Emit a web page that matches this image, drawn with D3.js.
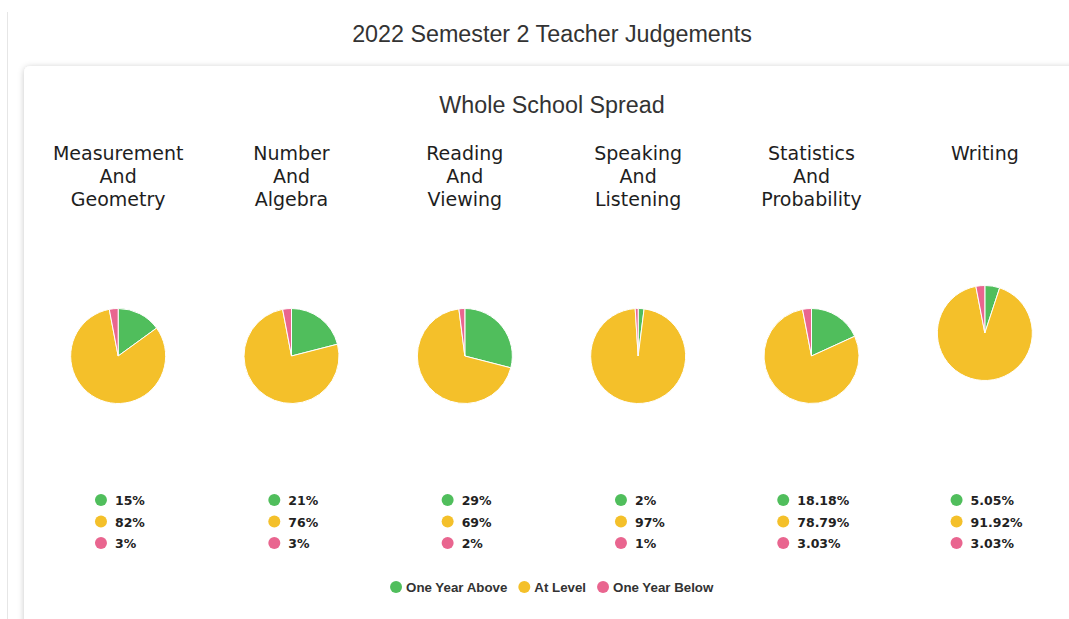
<!DOCTYPE html>
<html>
<head>
<meta charset="utf-8">
<script src="https://cdn.jsdelivr.net/npm/d3@7"></script>
<style>
  body { margin: 0; background: #fff; }
  svg { display: block; }
</style>
</head>
<body>
<svg id="chart" width="1069" height="619"></svg>
<script>
// Chart data
const subjects = [
  ['Measurement', 'And', 'Geometry'],
  ['Number', 'And', 'Algebra'],
  ['Reading', 'And', 'Viewing'],
  ['Speaking', 'And', 'Listening'],
  ['Statistics', 'And', 'Probability'],
  ['Writing']
];
const levels = ['One Year Above', 'At Level', 'One Year Below'];
const aboveValues = [15, 21, 29, 2, 18.18, 5.05];
const atLevelValues = [82, 76, 69, 97, 78.79, 91.92];
const belowValues = [3, 3, 2, 1, 3.03, 3.03];

const colors = d3.scaleOrdinal().domain(levels).range(['#50be5c', '#f4c02a', '#e9658f']);

const svg = d3.select('#chart');

// Shadow for the card
const defs = svg.append('defs');
const filter = defs.append('filter').attr('id', 'shadow')
  .attr('x', '-5%').attr('y', '-5%').attr('width', '110%').attr('height', '110%');
filter.append('feDropShadow').attr('dx', 0).attr('dy', 1).attr('stdDeviation', 3)
  .attr('flood-color', '#000').attr('flood-opacity', 0.22);

// left page divider
svg.append('line').attr('x1', 7.5).attr('x2', 7.5).attr('y1', 12).attr('y2', 619)
  .attr('stroke', '#e6e6e6').attr('stroke-width', 1);

svg.append('text')
  .attr('x', 552).attr('y', 42)
  .attr('text-anchor', 'middle')
  .style('font', '23.3px "Liberation Sans", Arial, sans-serif')
  .style('fill', '#333')
  .text('2022 Semester 2 Teacher Judgements');

// card
svg.append('rect')
  .attr('x', 24).attr('y', 66).attr('width', 1100).attr('height', 600)
  .attr('rx', 6).attr('fill', '#fff').attr('filter', 'url(#shadow)');

svg.append('text')
  .attr('x', 552).attr('y', 113)
  .attr('text-anchor', 'middle')
  .style('font', '23.3px "Liberation Sans", Arial, sans-serif')
  .style('fill', '#333')
  .text('Whole School Spread');

const x = d3.scaleBand().domain(d3.range(subjects.length)).range([31.5, 1071.5]);
const radius = 47.5;
const pie = d3.pie().sort(null).value(d => d.value);
const arc = d3.arc().innerRadius(0).outerRadius(radius);
const fmt = v => `${v}%`;

subjects.forEach((lines, i) => {
  const cx = x(i) + x.bandwidth() / 2;
  const g = svg.append('g');

  // column title
  const title = g.append('text')
    .attr('text-anchor', 'middle')
    .style('font', '19px "DejaVu Sans", Verdana, sans-serif')
    .style('fill', '#1e1e1e');
  lines.forEach((l, j) => {
    title.append('tspan').attr('x', cx).attr('y', 160 + j * 23).text(l);
  });

  // pie centred in the space left under the title
  const cy = 356 - (3 - lines.length) * 23 / 2;
  const data = [
    { key: levels[0], value: aboveValues[i] },
    { key: levels[1], value: atLevelValues[i] },
    { key: levels[2], value: belowValues[i] }
  ];
  g.append('g').attr('transform', `translate(${cx},${cy})`)
    .selectAll('path')
    .data(pie(data))
    .join('path')
    .attr('d', arc)
    .attr('fill', d => colors(d.data.key))
    .attr('stroke', '#fff')
    .attr('stroke-width', 1);

  // per-column legend
  const leg = g.append('g');
  const items = leg.selectAll('g')
    .data(data)
    .join('g')
    .attr('transform', (d, j) => `translate(0,${500 + j * 21.5})`);
  items.append('circle').attr('cx', 6).attr('cy', 0).attr('r', 6)
    .attr('fill', d => colors(d.key));
  items.append('text')
    .attr('x', 20).attr('y', 5)
    .style('font', 'bold 12.5px "DejaVu Sans", Verdana, sans-serif')
    .style('fill', '#222')
    .text(d => fmt(d.value));
  const w = leg.node().getBBox().width;
  leg.attr('transform', `translate(${cx - w / 2 + 2},0)`);
});

// bottom legend
const bottom = svg.append('g');
let offset = 0;
levels.forEach(l => {
  const item = bottom.append('g').attr('transform', `translate(${offset},0)`);
  item.append('circle').attr('cx', 6).attr('cy', 0).attr('r', 6).attr('fill', colors(l));
  const t = item.append('text').attr('x', 16).attr('y', 4.5)
    .style('font', 'bold 13.3px "Liberation Sans", Arial, sans-serif')
    .style('fill', '#333')
    .text(l);
  offset += 16 + t.node().getComputedTextLength() + 11;
});
const bw = bottom.node().getBBox().width;
bottom.attr('transform', `translate(${552 - bw / 2},587)`);
</script>
</body>
</html>
